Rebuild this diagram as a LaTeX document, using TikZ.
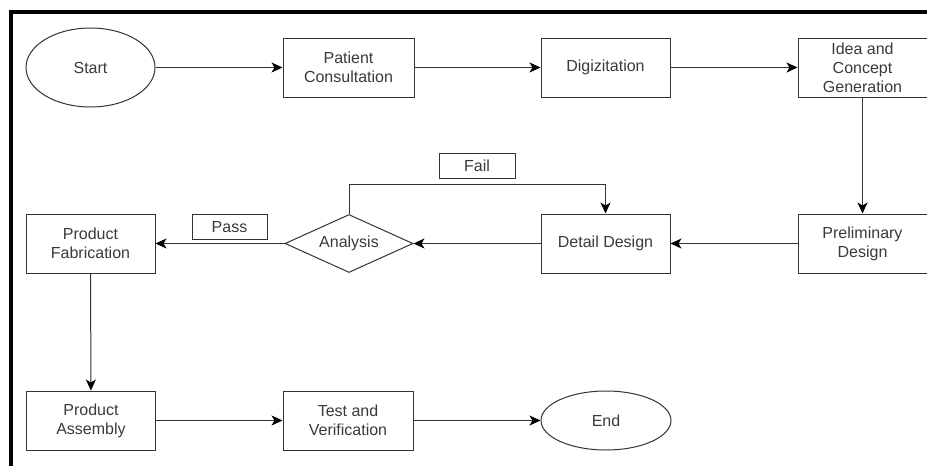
\documentclass[tikz,border=0pt]{standalone}
\usepackage{fontspec}
\setmainfont{Liberation Sans}
\usetikzlibrary{shapes.geometric,arrows.meta}
\definecolor{ln}{HTML}{333333}
\definecolor{tx}{HTML}{3A3A3A}
\begin{document}
\begin{tikzpicture}[x=1pt,y=-1pt,
  font=\fontsize{16}{19}\selectfont,
  base/.style={draw=ln, line width=1pt, align=center, text=tx, inner sep=0pt},
  box/.style={base, rectangle, minimum width=129pt, minimum height=59pt},
  oval/.style={base, ellipse, minimum width=129pt, minimum height=59pt},
  dec/.style={base, diamond, aspect=2.2, minimum width=128pt, minimum height=58pt},
  lbl/.style={base, rectangle, minimum width=75pt, minimum height=25pt},
  arr/.style={draw=ln, line width=1pt, -{Stealth[length=11pt,width=10pt,inset=3pt,color=black]}}]
\useasboundingbox (0,0) rectangle (927,466);
\fill[white] (0,0) rectangle (927,466);
\draw[line width=4pt, line join=miter] (11,466) -- (11,12) -- (927,12);

\node[oval, minimum height=79pt] (start) at (90.5,67.5) {Start};
\node[box, minimum width=131pt] (pc) at (348.5,67.5) {Patient\\Consultation};
\node[box] (dig) at (605.5,67.5) {Digizitation};
\node[box] (idea) at (862.5,67.5) {Idea and\\Concept\\Generation};
\node[box] (prelim) at (862.5,243.5) {Preliminary\\Design};
\node[box] (detail) at (605.5,243.5) {Detail Design};
\node[dec] (ana) at (349,243.5) {Analysis};
\node[box] (fab) at (90.5,243.5) {Product\\Fabrication};
\node[lbl] (pass) at (229.5,227) {Pass};
\node[lbl, minimum width=76pt] (fail) at (477,165.5) {Fail};
\node[box] (asm) at (91,420.5) {Product\\Assembly};
\node[box, minimum width=130pt] (test) at (348,420.5) {Test and\\Verification};
\node[oval, minimum width=130pt] (end) at (606,420.5) {End};

\coordinate (fy) at (0,184);
\draw[arr] (start) -- (pc);
\draw[arr] (pc) -- (dig);
\draw[arr] (dig) -- (idea);
\draw[arr] (idea) -- (prelim);
\draw[arr] (prelim) -- (detail);
\draw[arr] (detail) -- (ana);
\draw[arr] (ana) -- (fab);
\draw[arr] (ana.north) -- (ana.north |- fy) -| (detail.north);
\draw[arr] (fab) -- (asm);
\draw[arr] (asm) -- (test);
\draw[arr] (test) -- (end);
\end{tikzpicture}
\end{document}
